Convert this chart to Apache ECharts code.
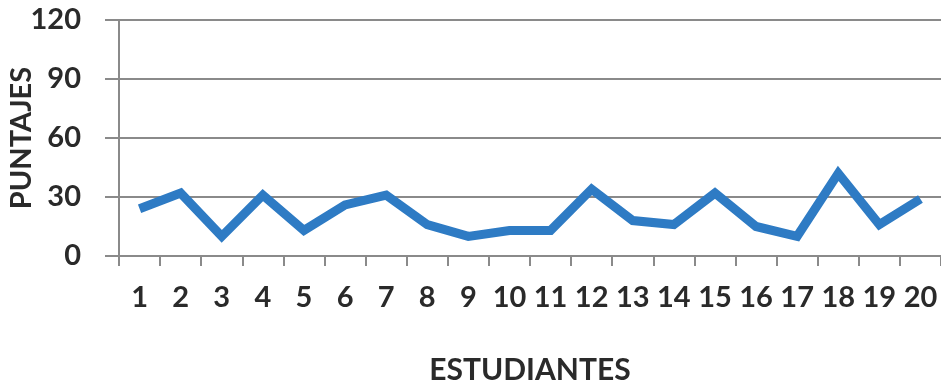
<!DOCTYPE html>
<html>
<head>
<meta charset="utf-8">
<script src="https://cdn.jsdelivr.net/npm/echarts@6/dist/echarts.min.js"></script>
<style>
html,body{margin:0;padding:0;background:#fff;}
#chart{width:941px;height:381px;}
</style>
</head>
<body>
<div id="chart"></div>
<script>
const categories = ['1','2','3','4','5','6','7','8','9','10','11','12','13','14','15','16','17','18','19','20'];
const puntajes = [24, 32, 10, 31, 13, 26, 31, 16, 10, 13, 13, 34, 18, 16, 32, 15, 10, 42, 16, 29];
const yTicks = { min: 0, max: 120, interval: 30 };
const xName = 'ESTUDIANTES';
const yName = 'PUNTAJES';

const font = 'Lato, "Open Sans", sans-serif';
const textColor = '#2a2a2a';
const gray = '#8a8a8a';

const chart = echarts.init(document.getElementById('chart'), null, { renderer: 'canvas' });
chart.setOption({
  animation: false,
  backgroundColor: '#fff',
  grid: { left: 119, right: 0, top: 20, bottom: 125, containLabel: false, outerBoundsMode: 'none' },
  xAxis: {
    type: 'category',
    data: categories,
    boundaryGap: true,
    name: xName,
    nameLocation: 'middle',
    nameGap: 99,
    nameMoveOverlap: false,
    nameTextStyle: { fontFamily: font, fontSize: 30, color: textColor, fontWeight: 'bold' },
    axisLine: { show: true, lineStyle: { color: gray, width: 2 } },
    axisTick: { show: true, alignWithLabel: false, length: 10, lineStyle: { color: gray, width: 2 } },
    axisLabel: { fontFamily: font, fontSize: 29, color: textColor, margin: 27, interval: 0, fontWeight: 'bold' },
    splitLine: { show: false }
  },
  yAxis: {
    type: 'value',
    min: yTicks.min,
    max: yTicks.max,
    interval: yTicks.interval,
    name: yName,
    nameLocation: 'middle',
    nameGap: 83,
    nameRotate: 90,
    nameMoveOverlap: false,
    nameTextStyle: { fontFamily: font, fontSize: 29, color: textColor, fontWeight: 'bold' },
    axisLine: { show: true, lineStyle: { color: gray, width: 2 } },
    axisTick: { show: true, length: 14, lineStyle: { color: gray, width: 2 } },
    axisLabel: { fontFamily: font, fontSize: 29, color: textColor, margin: 38, fontWeight: 'bold' },
    splitLine: { show: true, lineStyle: { color: gray, width: 2 } }
  },
  series: [{
    type: 'line',
    data: puntajes,
    symbol: 'none',
    lineStyle: { color: '#2e7bc4', width: 9, join: 'miter' },
    itemStyle: { color: '#2e7bc4' }
  }]
});
</script>
</body>
</html>
